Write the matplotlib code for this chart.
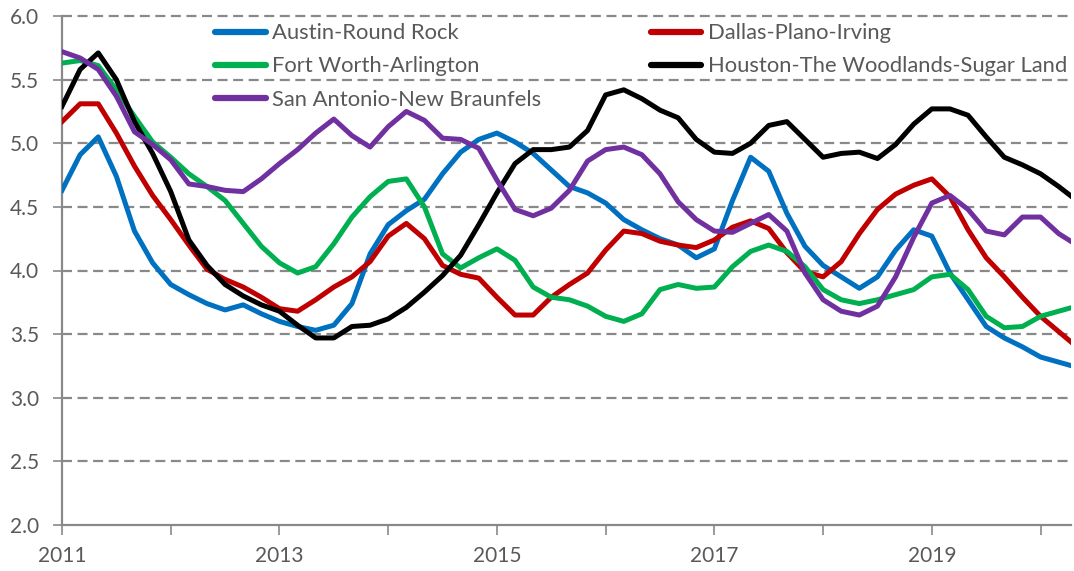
import numpy as np
import matplotlib
matplotlib.use('Agg')
import matplotlib.pyplot as plt
from matplotlib.ticker import MultipleLocator, FixedLocator, FormatStrFormatter

# valores bimestrais, jan 2011 .. mai 2020
anos = 2011 + np.arange(57) / 6

austin = [4.63, 4.91, 5.05, 4.74, 4.31, 4.06, 3.89, 3.81, 3.74, 3.69,
          3.73, 3.66, 3.60, 3.56, 3.53, 3.57, 3.74, 4.13, 4.36, 4.47,
          4.56, 4.76, 4.93, 5.03, 5.08, 5.01, 4.92, 4.79, 4.66, 4.61,
          4.53, 4.40, 4.32, 4.25, 4.20, 4.10, 4.17, 4.55, 4.89, 4.78,
          4.45, 4.19, 4.04, 3.95, 3.86, 3.95, 4.16, 4.32, 4.27, 3.98,
          3.77, 3.56, 3.47, 3.40, 3.32, 3.28, 3.24]
dallas = [5.17, 5.31, 5.31, 5.08, 4.82, 4.59, 4.40, 4.20, 4.01, 3.93,
          3.87, 3.79, 3.70, 3.68, 3.77, 3.87, 3.95, 4.07, 4.27, 4.37,
          4.25, 4.04, 3.97, 3.94, 3.79, 3.65, 3.65, 3.79, 3.89, 3.98,
          4.16, 4.31, 4.29, 4.23, 4.20, 4.18, 4.24, 4.34, 4.39, 4.33,
          4.14, 3.99, 3.95, 4.07, 4.29, 4.48, 4.60, 4.67, 4.72, 4.58,
          4.32, 4.10, 3.95, 3.79, 3.64, 3.52, 3.40]
fortworth = [5.63, 5.65, 5.61, 5.42, 5.21, 5.01, 4.89, 4.76, 4.66, 4.55,
             4.37, 4.19, 4.06, 3.98, 4.03, 4.21, 4.42, 4.58, 4.70, 4.72,
             4.50, 4.13, 4.02, 4.10, 4.17, 4.08, 3.87, 3.79, 3.77, 3.72,
             3.64, 3.60, 3.66, 3.85, 3.89, 3.86, 3.87, 4.03, 4.15, 4.20,
             4.15, 4.03, 3.85, 3.77, 3.74, 3.77, 3.81, 3.85, 3.95, 3.97,
             3.85, 3.64, 3.55, 3.56, 3.64, 3.68, 3.72]
houston = [5.29, 5.58, 5.71, 5.50, 5.17, 4.92, 4.62, 4.24, 4.04, 3.89,
           3.80, 3.73, 3.68, 3.57, 3.47, 3.47, 3.56, 3.57, 3.62, 3.71,
           3.83, 3.96, 4.12, 4.36, 4.61, 4.84, 4.95, 4.95, 4.97, 5.10,
           5.38, 5.42, 5.35, 5.26, 5.20, 5.03, 4.93, 4.92, 5.00, 5.14,
           5.17, 5.03, 4.89, 4.92, 4.93, 4.88, 4.99, 5.15, 5.27, 5.27,
           5.22, 5.05, 4.89, 4.83, 4.76, 4.66, 4.55]
sanantonio = [5.72, 5.67, 5.58, 5.37, 5.09, 4.99, 4.87, 4.68, 4.66, 4.63,
              4.62, 4.72, 4.84, 4.95, 5.08, 5.19, 5.06, 4.97, 5.13, 5.25,
              5.18, 5.04, 5.03, 4.96, 4.71, 4.48, 4.43, 4.49, 4.63, 4.86,
              4.95, 4.97, 4.91, 4.76, 4.54, 4.40, 4.31, 4.30, 4.37, 4.44,
              4.31, 3.98, 3.77, 3.68, 3.65, 3.72, 3.95, 4.26, 4.53, 4.59,
              4.48, 4.31, 4.28, 4.42, 4.42, 4.29, 4.20]

nomes = ['Austin-Round Rock', 'Dallas-Plano-Irving', 'Fort Worth-Arlington',
         'Houston-The Woodlands-Sugar Land', 'San Antonio-New Braunfels']
cores = ['#0070C0', '#C00000', '#00B050', '#000000', '#7030A0']

plt.rcParams['font.family'] = ['Lato', 'DejaVu Sans']

fig = plt.figure(figsize=(10.74, 5.71), dpi=100)
ax = fig.add_axes([62 / 1074, 1 - 525 / 571, (1071 - 62) / 1074, (525 - 16) / 571])

cinza = '#898989'
for y in np.arange(2.5, 6.01, 0.5):
    ax.axhline(y, color=cinza, lw=1.6, ls=(0, (4.5, 2.5)), zorder=1, clip_on=False)

series = [austin, dallas, fortworth, houston, sanantonio]
linhas = []
for s, nome, c in zip(series, nomes, cores):
    l, = ax.plot(anos, s, color=c, lw=3.6, label=nome, zorder=3,
                 solid_joinstyle='round')
    linhas.append(l)

ax.set_xlim(2011, 2020.28)
ax.set_ylim(2.0, 6.0)
ax.yaxis.set_major_locator(MultipleLocator(0.5))
ax.yaxis.set_major_formatter(FormatStrFormatter('%.1f'))
ax.xaxis.set_major_locator(FixedLocator([2011, 2013, 2015, 2017, 2019]))
ax.xaxis.set_minor_locator(FixedLocator([2012, 2014, 2016, 2018, 2020]))

for lado in ['top', 'right']:
    ax.spines[lado].set_visible(False)
for lado in ['left', 'bottom']:
    ax.spines[lado].set_color(cinza)
    ax.spines[lado].set_linewidth(1.6)

ax.tick_params(axis='x', which='both', length=7, width=1.2, color=cinza,
               labelsize=15, labelcolor='#595959', pad=8)
ax.tick_params(axis='y', length=6.5, width=1.2, color=cinza,
               labelsize=15, labelcolor='#595959', pad=10)

# ordem por colunas para que as linhas fiquem como no original
ordem = [0, 2, 4, 1, 3]
leg = ax.legend(handles=[linhas[i] for i in ordem], ncol=2, frameon=False,
                loc='upper left', bbox_to_anchor=(0.143, 1.003), fontsize=15.8,
                labelcolor='#595959', handlelength=2.3, handletextpad=0.3,
                columnspacing=5.0, labelspacing=0.6, borderaxespad=0)
for h in leg.get_lines():
    h.set_linewidth(4.5)
    h.set_solid_capstyle('round')

fig.savefig('out.png', dpi=100)
